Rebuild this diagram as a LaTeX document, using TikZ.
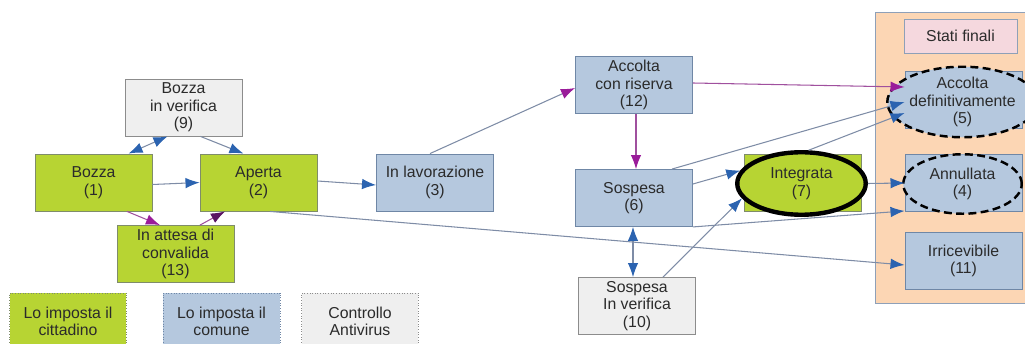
\documentclass[tikz,border=0pt]{standalone}
\usepackage{fontspec}
\setmainfont{Liberation Sans}
\usetikzlibrary{shapes.geometric,arrows.meta,calc}

\definecolor{citfill}{HTML}{B7D433}
\definecolor{citline}{HTML}{7F8C6A}
\definecolor{comfill}{HTML}{B5C8DE}
\definecolor{comline}{HTML}{6F87A6}
\definecolor{avfill}{HTML}{EFEFEF}
\definecolor{avline}{HTML}{8C8C8C}
\definecolor{finfill}{HTML}{FCD6B4}
\definecolor{finline}{HTML}{8EA0B8}
\definecolor{pinkfill}{HTML}{F5D8DE}
\definecolor{edgecol}{HTML}{7E8CA6}
\definecolor{headblue}{HTML}{2B63B0}
\definecolor{magline}{HTML}{A0509E}
\definecolor{maghead}{HTML}{9A1C9A}
\definecolor{purphead}{HTML}{5A1463}
\definecolor{txtcol}{HTML}{2B2B2B}

\begin{document}
\begin{tikzpicture}[x=0.02cm,y=-0.02cm,
  every node/.style={rectangle,align=center,inner sep=0pt,text=txtcol,
    font=\fontsize{9}{10}\selectfont,minimum width=2.34cm,minimum height=1.14cm},
  cit/.style={draw=citline,fill=citfill,line width=0.5pt},
  com/.style={draw=comline,fill=comfill,line width=0.5pt},
  av/.style={draw=avline,fill=avfill,line width=0.5pt},
  leg/.style={densely dotted,line width=0.5pt},
  fin/.style={ellipse,draw=black,dashed,line width=1.4pt,dash pattern=on 4.5pt off 2.5pt,
    minimum width=2.37cm,minimum height=1.19cm},
  blu/.style={draw=edgecol,line width=0.6pt,>={Latex[length=8pt,width=6pt,color=headblue]}},
  mag/.style={draw=magline,line width=0.6pt,>={Latex[length=8pt,width=6pt,color=maghead]}}]
\path[use as bounding box,clip] (0,0) rectangle (1025,344);

% stati finali
\draw[draw=finline,fill=finfill,line width=0.5pt] (875,12) rectangle (1035,303);
\node[draw=finline,fill=pinkfill,minimum width=2.26cm,minimum height=0.68cm] (sf) at (960.5,36) {Stati finali};

\node[av]  (b9)  at (183.5,107.5) {Bozza\\in verifica\\(9)};
\node[cit] (b1)  at (93.5,182.5)  {Bozza\\(1)};
\node[cit] (b2)  at (258.5,182.5) {Aperta\\(2)};
\node[com] (b3)  at (435,182.5)   {In lavorazione\\(3)};
\node[cit] (b13) at (175.5,254)   {In attesa di\\convalida\\(13)};
\node[com] (b12) at (634,85)      {Accolta\\con riserva\\(12)};
\node[com] (b6)  at (634,198)     {Sospesa\\(6)};
\node[av]  (b10) at (637,306)     {Sospesa\\In verifica\\(10)};
\node[cit] (r7)  at (802.5,182.5) {};
\node[com] (r5)  at (963.5,100)   {};
\node[com] (r4)  at (963.5,183)   {};
\node[com] (r11) at (963.5,261)   {Irricevibile\\(11)};

% legenda
\node[cit,leg] (l1) at (68,321.5)  {Lo imposta il\\cittadino};
\node[com,leg] (l2) at (221.5,321.5) {Lo imposta il\\comune};
\node[av,leg]  (l3) at (360,321.5) {Controllo\\Antivirus};

\node[ellipse,draw=black,fill=citfill,line width=2.5pt,minimum width=2.57cm,minimum height=1.25cm]
  (n7) at (801.5,183.5) {Integrata\\(7)};
\node[fin,fill=comfill] (e5) at (962.5,102) {Accolta\\definitivamente\\(5)};
\node[fin,fill=comfill] (e4) at (962.5,184) {Annullata\\(4)};

\draw[blu,<->] ($(b1.north)+(35,0)$) -- ($(b9.south)+(-16,0)$);
\draw[blu,->]  ($(b9.south)+(17,0)$) -- ($(b2.north)+(-15,0)$);
\draw[blu,->]  ($(b1.east)+(0,2)$) -- (b2.west);
\draw[mag,->]  ($(b1.south)+(33.5,0)$) -- ($(b13.north)+(-15.5,0)$);
\draw[mag,->,>={Latex[length=8pt,width=6pt,color=purphead]}] ($(b13.north)+(24.5,0)$) -- ($(b2.south)+(-33.5,0)$);
\draw[blu,->]  ($(b2.east)+(0,-1.5)$) -- ($(b3.west)+(0,2.5)$);
\draw[blu,->,>={Latex[length=8pt,width=6pt,color=maghead]}] ($(b3.north)+(-5,0)$) -- ($(b12.west)+(0,3)$);
\draw[blu,->]  ($(b2.south)+(11.5,0)$) -- ($(r11.west)+(0,4)$);
\draw[mag,->]  ($(b12.east)+(0,-2)$) -- ($(r5.west)+(0,-13)$);
\draw[mag,->]  ($(b12.south)+(2,0)$) -- ($(b6.north)+(2,0)$);
\draw[blu,->]  ($(b6.north)+(38,0)$) -- ($(r5.west)+(0,2)$);
\draw[blu,->]  ($(b6.east)+(0,-14)$) -- (n7.168);
\draw[blu,->]  (b6.south east) -- ($(r4.south west)+(0,-1)$);
\draw[blu,<->] ($(b6.south)+(-1,0)$) -- ($(b10.north)+(-4,0)$);
\draw[blu,->]  ($(b10.north)+(26,0)$) -- (n7.194);
\draw[blu,->]  (n7.78) -- ($(r5.west)+(0,13)$);
\draw[blu,->]  (n7.east) -- (r4.west);
\end{tikzpicture}
\end{document}
